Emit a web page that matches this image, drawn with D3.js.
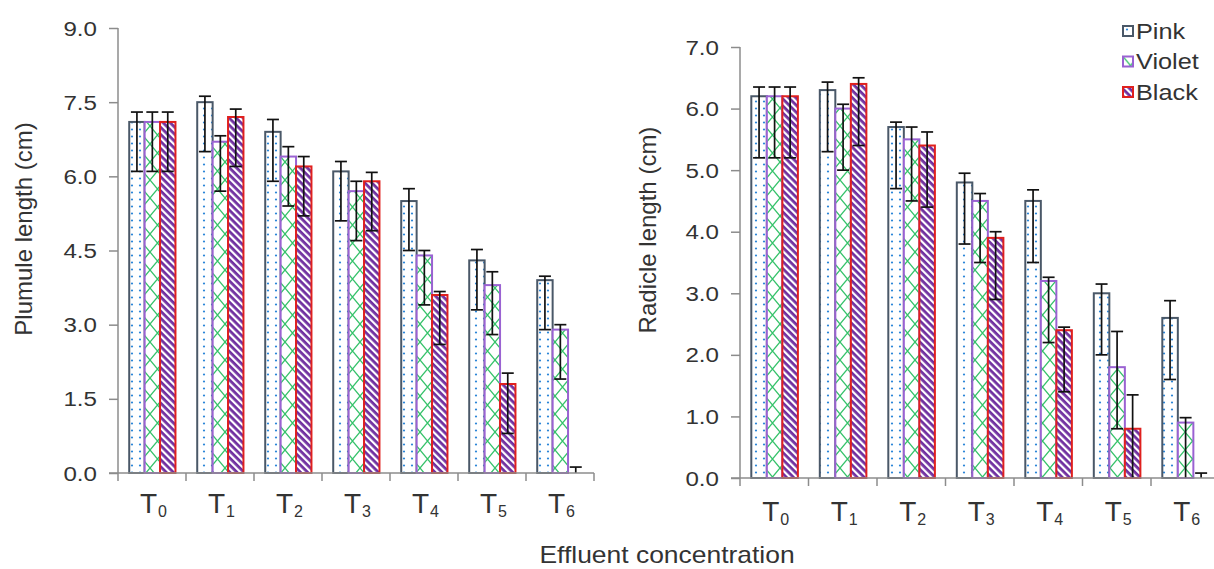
<!DOCTYPE html>
<html>
<head>
<meta charset="utf-8">
<script src="https://cdn.jsdelivr.net/npm/d3@7"></script>
<style>
  body { margin: 0; background: #fff; }
  svg text { font-family: "Liberation Sans", Arial, sans-serif; fill: #333; }
</style>
</head>
<body>
<svg id="chart" width="1214" height="569"></svg>
<script>
// categories + series
const categories = ["0", "1", "2", "3", "4", "5", "6"];   // T subscripts
const seriesNames = ["Pink", "Violet", "Black"];

// plumule length (cm)
const plumulePink   = [7.1, 7.5, 6.9, 6.1, 5.5, 4.3, 3.9];
const plumuleViolet = [7.1, 6.7, 6.4, 5.7, 4.4, 3.8, 2.9];
const plumuleBlack  = [7.1, 7.2, 6.2, 5.9, 3.6, 1.8, 0.0];
const plumuleErrUpPink   = [0.20, 0.12, 0.25, 0.20, 0.25, 0.22, 0.08];
const plumuleErrUpViolet = [0.20, 0.12, 0.20, 0.20, 0.10, 0.27, 0.10];
const plumuleErrUpBlack  = [0.20, 0.16, 0.20, 0.18, 0.07, 0.22, 0.12];

// radicle length (cm), right panel
const radiclePink   = [6.2, 6.3, 5.7, 4.8, 4.5, 3.0, 2.6];
const radicleViolet = [6.2, 6.0, 5.5, 4.5, 3.2, 1.8, 0.9];
const radicleBlack  = [6.2, 6.4, 5.4, 3.9, 2.4, 0.8, 0.0];
const radicleErrUpPink   = [0.15, 0.13, 0.08, 0.15, 0.18, 0.15, 0.28];
const radicleErrUpViolet = [0.15, 0.07, 0.20, 0.12, 0.06, 0.58, 0.08];
const radicleErrUpBlack  = [0.15, 0.10, 0.22, 0.10, 0.05, 0.55, 0.08];

const errDown = 1.0; // lower whisker is always 1.0 (clipped at zero)

const plumuleTicks = [0, 1.5, 3.0, 4.5, 6.0, 7.5, 9.0];
const radicleTicks = [0, 1, 2, 3, 4, 5, 6, 7];

const svg = d3.select("#chart");
const axisColor = "#8c8c8c";

// --- fill patterns ---
const defs = svg.append("defs");

const dots = defs.append("pattern").attr("id", "fillPink")
    .attr("patternUnits", "userSpaceOnUse").attr("width", 8).attr("height", 7);
dots.append("rect").attr("width", 8).attr("height", 7).attr("fill", "#fff");
dots.append("circle").attr("cx", 4).attr("cy", 3.5).attr("r", 1.1).attr("fill", "#2b86d8");

const cross = defs.append("pattern").attr("id", "fillViolet")
    .attr("patternUnits", "userSpaceOnUse").attr("width", 15).attr("height", 18);
cross.append("rect").attr("width", 15).attr("height", 18).attr("fill", "#fff");
cross.append("path").attr("d", "M0,0L15,18M15,0L0,18")
    .attr("stroke", "#35c26a").attr("stroke-width", 1.3).attr("fill", "none");

const stripes = defs.append("pattern").attr("id", "fillBlack")
    .attr("patternUnits", "userSpaceOnUse").attr("width", 5).attr("height", 10)
    .attr("patternTransform", "rotate(-45)");
stripes.append("rect").attr("width", 5).attr("height", 10).attr("fill", "#7030a0");
stripes.append("rect").attr("width", 2.2).attr("height", 10).attr("fill", "#fff");

const fills = {Pink: "url(#fillPink)", Violet: "url(#fillViolet)", Black: "url(#fillBlack)"};
const strokes = {Pink: "#4a5868", Violet: "#9a62d2", Black: "#e0201e"};

// text helper: some labels in the source are stretched sideways
function label(g, x, y, txt, size, anchor, sx) {
    const t = g.append("text")
        .attr("transform", `translate(${x},${y}) scale(${sx || 1},1)`)
        .attr("text-anchor", anchor || "start")
        .style("font-size", size + "px")
        .text(txt);
    return t;
}

function drawPanel(opt) {
    const g = svg.append("g");
    const x0 = d3.scaleBand().domain(categories).range([opt.left, opt.right]);
    const bw = x0.bandwidth();
    const x1 = d3.scaleBand().domain(seriesNames).range([0.165 * bw, 0.845 * bw]);
    const y = d3.scaleLinear().domain([0, opt.max]).range([opt.bottom, opt.top]);

    // bars
    seriesNames.forEach((s, si) => {
        const vals = opt.values[si];
        g.selectAll(null).data(vals.map((v, i) => ({v, c: categories[i]})).filter(d => d.v > 0))
            .enter().append("rect")
            .attr("x", d => x0(d.c) + x1(s))
            .attr("y", d => y(d.v))
            .attr("width", x1.bandwidth())
            .attr("height", d => y(0) - y(d.v))
            .attr("fill", fills[s])
            .attr("stroke", strokes[s])
            .attr("stroke-width", 2);
    });

    // error bars
    seriesNames.forEach((s, si) => {
        const vals = opt.values[si], ups = opt.errUp[si];
        vals.forEach((v, i) => {
            const cx = x0(categories[i]) + x1(s) + x1.bandwidth() / 2;
            const hi = y(v + ups[i]), lo = y(Math.max(0, v - errDown));
            const eg = g.append("g").attr("stroke", "#111").attr("stroke-width", 1.7);
            eg.append("line").attr("x1", cx).attr("x2", cx).attr("y1", hi).attr("y2", lo);
            eg.append("line").attr("x1", cx - 6).attr("x2", cx + 6).attr("y1", hi).attr("y2", hi);
            if (v - errDown > 0)
                eg.append("line").attr("x1", cx - 6).attr("x2", cx + 6).attr("y1", lo).attr("y2", lo);
        });
    });

    // y axis
    const ay = g.append("g").attr("transform", `translate(${opt.left},0)`)
        .call(d3.axisLeft(y).tickValues(opt.ticks).tickSize(9).tickFormat(() => ""));
    ay.select(".domain").attr("d", `M0,${opt.top}V${opt.bottom}`);
    ay.selectAll("line, path").attr("stroke", axisColor).attr("stroke-width", 1.5);
    opt.ticks.forEach(t => {
        label(g, opt.left - 21, y(t) + 7.5, d3.format(".1f")(t), 21, "end", 1.15);
    });

    // x axis
    const ax = g.append("g").attr("transform", `translate(0,${opt.bottom})`)
        .call(d3.axisBottom(x0).tickSize(0).tickFormat(() => ""));
    ax.select(".domain").attr("d", `M${opt.left - 9},0H${opt.right}`);
    ax.selectAll("line, path").attr("stroke", axisColor).attr("stroke-width", 1.5);
    const tickPos = categories.map(c => x0(c)).concat([opt.right]);
    g.selectAll(null).data(tickPos).enter().append("line")
        .attr("x1", d => d).attr("x2", d => d)
        .attr("y1", opt.bottom).attr("y2", opt.bottom + 8)
        .attr("stroke", axisColor).attr("stroke-width", 1.5);

    categories.forEach(c => {
        const cx = x0(c) + bw / 2;
        const t = g.append("text")
            .attr("x", cx - 12).attr("y", opt.bottom + opt.labelDy)
            .style("font-size", "28px");
        t.append("tspan").text("T");
        t.append("tspan").attr("dy", 4).attr("dx", 1).style("font-size", "16px").text(c);
    });

    // y title
    g.append("text")
        .attr("transform", `translate(${opt.titleX},${opt.titleY}) rotate(-90)`)
        .attr("text-anchor", "middle")
        .style("font-size", "24px")
        .text(opt.title);
}

drawPanel({
    left: 118, right: 594, top: 28, bottom: 473, max: 9,
    ticks: plumuleTicks, labelDy: 40, titleX: 32, titleY: 229,
    values: [plumulePink, plumuleViolet, plumuleBlack],
    errUp: [plumuleErrUpPink, plumuleErrUpViolet, plumuleErrUpBlack],
    title: "Plumule length (cm)"
});

drawPanel({
    left: 740, right: 1219.5, top: 47, bottom: 478, max: 7,
    ticks: radicleTicks, labelDy: 43, titleX: 656, titleY: 230,
    values: [radiclePink, radicleViolet, radicleBlack],
    errUp: [radicleErrUpPink, radicleErrUpViolet, radicleErrUpBlack],
    title: "Radicle length (cm)"
});

// shared x title
label(svg, 667, 563, "Effluent concentration", 23, "middle", 1.15);

// legend
const leg = svg.append("g").attr("transform", "translate(1123,26)");
seriesNames.forEach((s, i) => {
    const row = leg.append("g").attr("transform", `translate(0,${i * 30.5})`);
    row.append("rect").attr("width", 10).attr("height", 10)
        .attr("fill", fills[s]).attr("stroke", strokes[s]).attr("stroke-width", 2);
    label(row, 13, 12.5, s, 22, "start", 1.15);
});
</script>
</body>
</html>
